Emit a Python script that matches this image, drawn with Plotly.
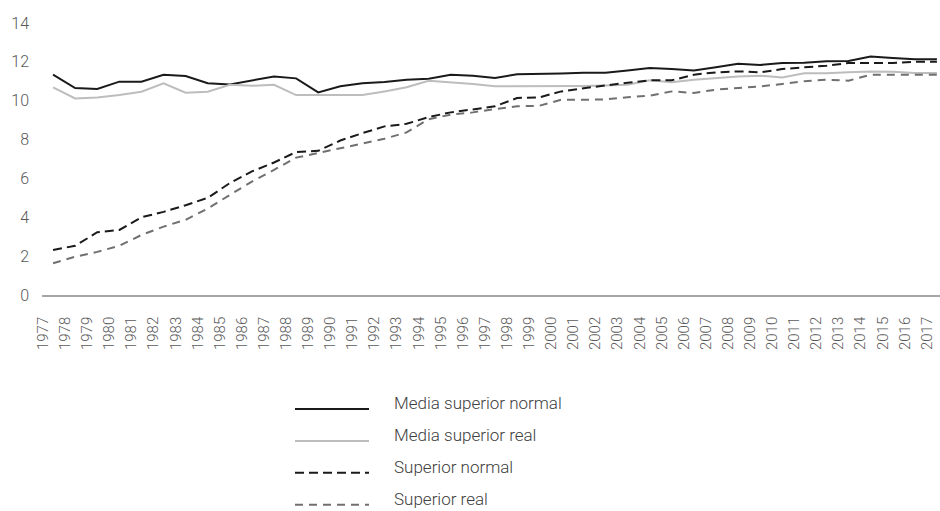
import plotly.graph_objects as go

years = list(range(1977, 2018))

media_superior_normal = [11.34, 10.65, 10.6, 10.98, 10.98, 11.34, 11.27, 10.9, 10.84, 11.05,
                         11.25, 11.15, 10.43, 10.74, 10.9, 10.96, 11.08, 11.13, 11.34, 11.29,
                         11.17, 11.36, 11.37, 11.4, 11.44, 11.44, 11.55, 11.68, 11.63, 11.56,
                         11.72, 11.9, 11.84, 11.94, 11.96, 12.03, 12.04, 12.28, 12.2, 12.13, 12.13]

media_superior_real = [10.69, 10.12, 10.17, 10.29, 10.46, 10.89, 10.41, 10.46, 10.82, 10.77,
                       10.82, 10.29, 10.29, 10.29, 10.29, 10.48, 10.69, 11.03, 10.96, 10.86,
                       10.74, 10.74, 10.74, 10.74, 10.76, 10.78, 10.82, 11.05, 10.95, 11.08,
                       11.17, 11.24, 11.29, 11.19, 11.41, 11.41, 11.46, 11.51, 11.49, 11.43, 11.43]

superior_normal = [2.32, 2.53, 3.23, 3.35, 4.0, 4.28, 4.62, 5.0, 5.76, 6.36,
                   6.82, 7.36, 7.42, 7.95, 8.33, 8.68, 8.81, 9.16, 9.4, 9.57,
                   9.71, 10.14, 10.17, 10.48, 10.65, 10.79, 10.92, 11.05, 11.05, 11.34,
                   11.46, 11.51, 11.46, 11.63, 11.72, 11.8, 11.94, 11.94, 11.94, 12.0, 12.01]

superior_real = [1.63, 1.97, 2.22, 2.53, 3.09, 3.52, 3.87, 4.45, 5.15, 5.84,
                 6.44, 7.07, 7.31, 7.56, 7.82, 8.04, 8.37, 9.05, 9.28, 9.4,
                 9.57, 9.71, 9.74, 10.05, 10.05, 10.07, 10.18, 10.26, 10.48, 10.4,
                 10.57, 10.65, 10.74, 10.86, 11.0, 11.08, 11.03, 11.34, 11.34, 11.34, 11.34]

series = [
    ("Media superior normal", media_superior_normal, "#1a1a1a", "solid"),
    ("Media superior real", media_superior_real, "#bdbdbd", "solid"),
    ("Superior normal", superior_normal, "#1a1a1a", "9px,5px"),
    ("Superior real", superior_real, "#707070", "8px,6px"),
]

W, H = 940, 511
L, R, T, B = 42, 0, 22.5, 215.5
pw, ph = W - L - R, H - T - B

fig = go.Figure()
for name, vals, color, dash in series:
    fig.add_trace(go.Scatter(x=years, y=vals, mode="lines", name=name, showlegend=False,
                             line=dict(color=color, width=2, dash=dash)))

# hand-made legend below the chart (long line samples)
legend_y = [410, 442, 474, 506]
for (name, _, color, dash), py in zip(series, legend_y):
    yp = (H - B - py) / ph
    fig.add_shape(type="line", xref="paper", yref="paper",
                  x0=(295 - L) / pw, x1=(369 - L) / pw, y0=yp, y1=yp,
                  line=dict(color=color, width=2, dash=dash))
    fig.add_annotation(text=name, xref="paper", yref="paper", showarrow=False,
                       x=(392 - L) / pw, y=(H - B - (py - 6)) / ph,
                       xanchor="left", yanchor="middle",
                       font=dict(size=17, color="#404040"))

fig.update_layout(
    width=W, height=H,
    margin=dict(l=L, r=R, t=T, b=B),
    paper_bgcolor="white",
    plot_bgcolor="white",
    font=dict(family="Roboto", weight=300, color="#595959"),
    showlegend=False,
)
fig.update_xaxes(
    range=[1976.5, 2017.14],
    tickvals=years, ticktext=[str(y) for y in years],
    tickangle=-90, tickfont=dict(size=15, color="#595959"),
    showgrid=False, zeroline=False,
    showline=True, linecolor="#a6a6a6", linewidth=1.5,
    ticks="", ticklabelshift=-10, ticklabelstandoff=14,
)
fig.update_yaxes(
    range=[0, 14], tickvals=list(range(0, 15, 2)),
    tickfont=dict(size=16, color="#595959"),
    showgrid=False, zeroline=False, showline=False,
    ticks="", ticklabelstandoff=12,
)

# drop the default page margin so the figure sits at the window's corner
fig.write_html("out.html", config={"displayModeBar": False},
               post_script="document.body.style.margin='0';")
